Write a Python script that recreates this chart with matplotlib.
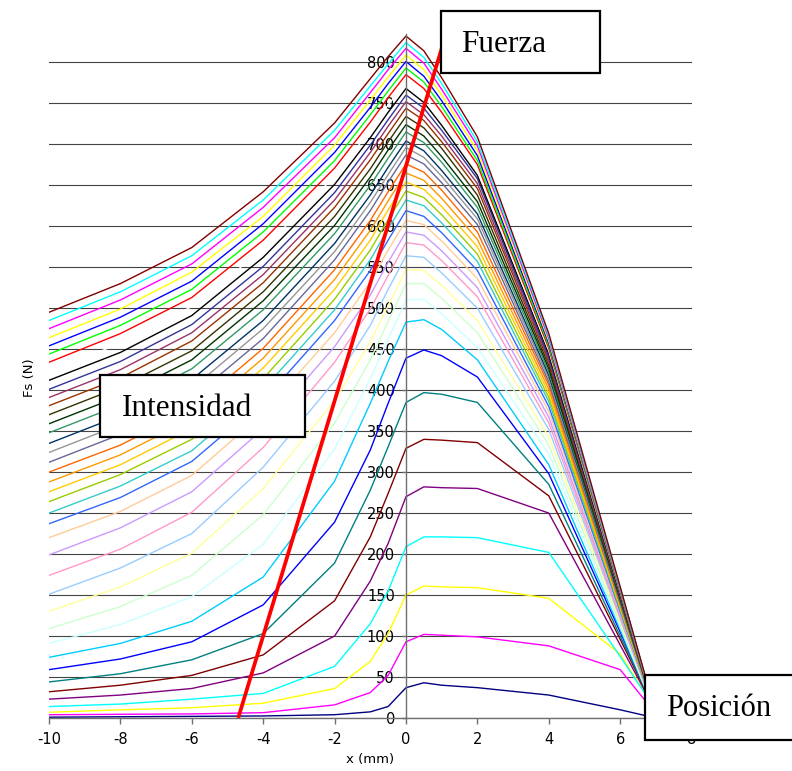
import matplotlib
matplotlib.use("Agg")
import matplotlib.pyplot as plt
from matplotlib.patches import Rectangle

plt.rcParams["axes.unicode_minus"] = False

# ---------------- data ----------------
x_mm = [-10, -8, -6, -4, -2, -1, -0.5, 0, 0.5, 1, 2, 4, 6, 7]

s01 = [1, 1.5, 2, 2.5, 4, 7.5, 14, 37, 43, 40, 37, 28, 10, 0]
s02 = [4, 4.5, 5, 6.5, 16, 31, 52, 93, 102, 101, 99, 88, 59, 5]
s03 = [7, 10, 12.5, 18, 36, 69, 103, 150, 161, 160, 159, 146, 78, 10]
s04 = [14, 17, 23, 30, 63, 115, 155, 209, 221, 221, 220, 202, 75, 10]
s05 = [23, 28, 36, 55, 100, 167, 213, 270, 282, 281, 280, 250, 89, 8]
s06 = [32, 40, 52, 77, 143, 221, 274, 329, 340, 339, 336, 271, 96, 8]
s07 = [44, 54, 71, 103, 189, 278, 331, 385, 397, 395, 385, 285, 100, 8]
s08 = [59, 72, 93, 138, 239, 327, 384, 439, 449, 442, 416, 298, 105, 8]
s09 = [74, 91, 118, 172, 289, 384, 435, 483, 486, 474, 437, 309, 108, 5]
s10 = [91, 114, 148, 212, 328, 414, 462, 510, 511, 493, 452, 322, 111, 5]
s11 = [109, 136, 174, 248, 360, 437, 484, 530, 530, 512, 470, 333, 114, 5]
s12 = [130, 160, 201, 280, 387, 459, 503, 547, 546, 528, 485, 343, 118, 5]
s13 = [151, 183, 225, 306, 411, 479, 523, 564, 562, 543, 500, 352, 121, 5]
s14 = [174, 206, 251, 330, 434, 499, 540, 580, 577, 558, 514, 360, 123, 5]
s15 = [199, 232, 276, 353, 453, 516, 556, 593, 589, 570, 525, 367, 126, 5]
s16 = [220, 252, 296, 372, 470, 532, 571, 607, 602, 582, 536, 374, 128, 5]
s17 = [237, 269, 313, 387, 485, 546, 583, 619, 612, 592, 546, 380, 130, 5]
s18 = [250, 283, 326, 401, 498, 559, 597, 632, 625, 604, 557, 386, 132, 5]
s19 = [264, 297, 340, 414, 511, 571, 608, 643, 635, 614, 566, 391, 134, 5]
s20 = [276, 309, 353, 427, 523, 583, 620, 654, 645, 624, 575, 396, 135, 5]
s21 = [288, 321, 365, 439, 535, 595, 631, 665, 656, 634, 584, 401, 137, 5]
s22 = [300, 333, 377, 451, 547, 607, 642, 676, 666, 644, 593, 406, 139, 5]
s23 = [312, 346, 390, 463, 559, 619, 654, 687, 676, 653, 602, 410, 140, 5]
s24 = [324, 358, 402, 475, 569, 629, 663, 696, 684, 661, 609, 414, 141, 5]
s25 = [335, 369, 413, 485, 579, 638, 672, 704, 692, 668, 615, 418, 143, 5]
s26 = [348, 382, 426, 498, 591, 650, 683, 715, 702, 678, 623, 422, 144, 5]
s27 = [359, 393, 437, 509, 601, 660, 693, 724, 710, 685, 630, 426, 145, 5]
s28 = [370, 404, 448, 520, 612, 670, 703, 734, 720, 695, 638, 430, 147, 5]
s29 = [381, 415, 460, 531, 623, 681, 713, 744, 729, 703, 646, 434, 148, 5]
s30 = [391, 425, 470, 541, 632, 690, 722, 752, 736, 710, 652, 437, 149, 5]
s31 = [401, 435, 480, 551, 641, 699, 730, 760, 744, 717, 658, 440, 150, 5]
s32 = [412, 446, 491, 562, 651, 708, 739, 768, 751, 723, 662, 444, 151, 5]
s33 = [423, 457, 502, 572, 661, 717, 748, 776, 759, 731, 668, 448, 153, 5]
s34 = [434, 469, 513, 583, 671, 727, 757, 785, 768, 739, 675, 451, 154, 5]
s35 = [444, 479, 523, 593, 680, 736, 765, 793, 776, 746, 680, 454, 155, 5]
s36 = [454, 489, 533, 603, 690, 745, 774, 801, 783, 753, 686, 457, 156, 5]
s37 = [464, 499, 544, 612, 699, 754, 782, 809, 791, 760, 692, 460, 157, 5]
s38 = [475, 510, 554, 623, 708, 763, 791, 817, 799, 767, 698, 463, 158, 5]
s39 = [485, 520, 564, 632, 717, 771, 798, 824, 806, 774, 703, 466, 159, 5]
s40 = [495, 530, 574, 642, 726, 780, 807, 832, 814, 781, 709, 469, 160, 5]

series_colors = [
    "#000080", "#FF00FF", "#FFFF00", "#00FFFF", "#800080", "#800000", "#008080", "#0000FF",
    "#00CCFF", "#CCFFFF", "#CCFFCC", "#FFFF99", "#99CCFF", "#FF99CC", "#CC99FF", "#FFCC99",
    "#3366FF", "#33CCCC", "#99CC00", "#FFCC00", "#FF9900", "#FF6600", "#666699", "#969696",
    "#003366", "#339966", "#003300", "#333300", "#993300", "#993366", "#333399", "#000000",
    "#FFFFFF", "#FF0000", "#00FF00", "#0000FF", "#FFFF00", "#FF00FF", "#00FFFF", "#800000",
]

# red guide line (x in mm, Fs in N)
guide_x = [-4.70, 1.05]
guide_y = [0, 824]

x_ticks = [-10, -8, -6, -4, -2, 0, 2, 4, 6, 8]
y_ticks = list(range(0, 801, 50))

series = [s01, s02, s03, s04, s05, s06, s07, s08, s09, s10, s11, s12, s13, s14, s15, s16,
          s17, s18, s19, s20, s21, s22, s23, s24, s25, s26, s27, s28, s29, s30, s31, s32,
          s33, s34, s35, s36, s37, s38, s39, s40]

# ---------------- figure ----------------
W, H = 792, 771
fig = plt.figure(figsize=(W / 100, H / 100), dpi=100)


def fx(px):
    return px / W


def fy(py):
    return 1 - py / H


ax = fig.add_axes([fx(49), fy(718), (691.6 - 49) / W, (718 - 33.6) / H])
ax.set_xlim(-10, 8)
ax.set_ylim(0, 835)

for vals, col in zip(series, series_colors):
    ax.plot(x_mm, vals, color=col, lw=1.0, zorder=2)

ax.plot(guide_x, guide_y, color="#FF0000", lw=2.7, zorder=3, solid_capstyle="butt")

for s in ("top", "right"):
    ax.spines[s].set_visible(False)
ax.spines["left"].set_position(("data", 0))
ax.spines["bottom"].set_position(("data", 0))
for s in ("left", "bottom"):
    ax.spines[s].set_color("#707070")
    ax.spines[s].set_linewidth(1.0)

ax.set_xticks(x_ticks)
ax.set_yticks(y_ticks)
ax.tick_params(axis="x", direction="out", length=4, width=1, color="#707070",
               pad=6, labelsize=10.5, labelcolor="black")
ax.tick_params(axis="y", direction="out", length=3, width=1, color="#707070",
               pad=5, labelsize=10.5, labelcolor="black")
ax.set_axisbelow(True)
ax.yaxis.grid(True, color="#444444", lw=0.8)
ax.xaxis.grid(False)
ax.patch.set_visible(False)

fig.text(fx(370), fy(760), "x (mm)", ha="center", va="center", fontsize=9.5)
fig.text(fx(30), fy(378), "Fs (N)", ha="center", va="center", rotation=90, fontsize=9.5)


def box(x0, y0, x1, y1):
    fig.add_artist(Rectangle((fx(x0), fy(y1)), fx(x1) - fx(x0), fy(y0) - fy(y1),
                             transform=fig.transFigure, facecolor="white",
                             edgecolor="black", lw=1.6, zorder=5))


serif = ["Liberation Serif", "DejaVu Serif"]
box(441, 11, 600, 73)
fig.text(fx(461), fy(52.3), "Fuerza", fontsize=22.5, family=serif,
         ha="left", va="baseline", zorder=6)
box(100, 375, 305, 437)
fig.text(fx(121.5), fy(415.7), "Intensidad", fontsize=22.5, family=serif,
         ha="left", va="baseline", zorder=6)
box(645, 675, 800, 740)
fig.text(fx(666), fy(715.5), "Posición", fontsize=22, family=serif,
         ha="left", va="baseline", zorder=6)

fig.savefig("out.png", dpi=100)
